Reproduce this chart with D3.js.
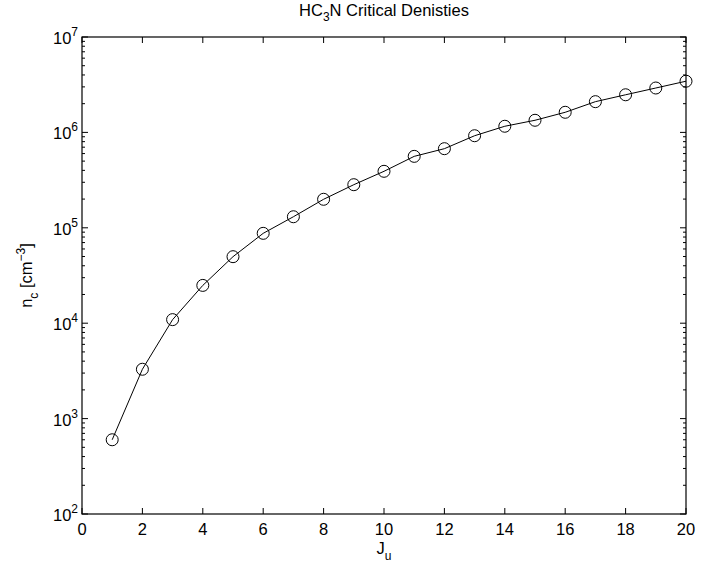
<!DOCTYPE html>
<html>
<head>
<meta charset="utf-8">
<script src="https://cdn.jsdelivr.net/npm/d3@7"></script>
<style>
  body { margin: 0; background: #fff; }
  text { font-family: "Liberation Sans", Arial, Helvetica, sans-serif; fill: #000; }
</style>
</head>
<body>
<div id="viz"></div>
<script>
// J_u levels and critical densities (cm^-3)
var levels    = [1, 2, 3, 4, 5, 6, 7, 8, 9, 10, 11, 12, 13, 14, 15, 16, 17, 18, 19, 20];
var densities = [600, 3290, 10900, 24900, 49800, 87500, 130600, 199000, 283000, 391000,
                 561000, 675000, 923000, 1160000, 1340000, 1625000, 2100000, 2480000, 2920000, 3440000];
var xTicks    = [0, 2, 4, 6, 8, 10, 12, 14, 16, 18, 20];
var yDecades  = [2, 3, 4, 5, 6, 7];

var W = 720, H = 565;
// plot box edges (don't call it "top", that's window.top)
var pL = 82, pR = 686, pT = 37, pB = 514;

var svg = d3.select("#viz").append("svg")
    .attr("width", W)
    .attr("height", H);

var x = d3.scaleLinear().domain([0, 20]).range([pL, pR]);
var y = d3.scaleLog().domain([1e2, 1e7]).range([pB, pT]);

// minor ticks on log axis
var minor = [];
for (var d = 2; d < 7; d++) {
  for (var m = 2; m <= 9; m++) minor.push(m * Math.pow(10, d));
}

var g = svg.append("g");

// x ticks, bottom and top, pointing inward
xTicks.forEach(function(t) {
  g.append("line").attr("x1", x(t)).attr("x2", x(t))
    .attr("y1", pB).attr("y2", pB - 6).attr("stroke", "#000");
  g.append("line").attr("x1", x(t)).attr("x2", x(t))
    .attr("y1", pT).attr("y2", pT + 6).attr("stroke", "#000");
  g.append("text").attr("x", x(t)).attr("y", 535)
    .attr("text-anchor", "middle").style("font-size", "16.5px").text(t);
});

// y major ticks + labels
yDecades.forEach(function(e) {
  var v = Math.pow(10, e);
  g.append("line").attr("x1", pL).attr("x2", pL + 6)
    .attr("y1", y(v)).attr("y2", y(v)).attr("stroke", "#000");
  g.append("line").attr("x1", pR).attr("x2", pR - 6)
    .attr("y1", y(v)).attr("y2", y(v)).attr("stroke", "#000");
  var lab = g.append("text").attr("x", 78).attr("y", y(v) + 7)
    .attr("text-anchor", "end").style("font-size", "16.5px");
  lab.append("tspan").text("10");
  lab.append("tspan").attr("dy", -8).style("font-size", "12px").text(e);
});

// y minor ticks
minor.forEach(function(v) {
  g.append("line").attr("x1", pL).attr("x2", pL + 3)
    .attr("y1", y(v)).attr("y2", y(v)).attr("stroke", "#000");
  g.append("line").attr("x1", pR).attr("x2", pR - 3)
    .attr("y1", y(v)).attr("y2", y(v)).attr("stroke", "#000");
});

// frame
g.append("rect")
  .attr("x", pL).attr("y", pT)
  .attr("width", pR - pL).attr("height", pB - pT)
  .attr("fill", "none").attr("stroke", "#000").attr("stroke-width", 1.2);

var pts = levels.map(function(l, i) { return [l, densities[i]]; });

var line = d3.line()
  .x(function(d) { return x(d[0]); })
  .y(function(d) { return y(d[1]); });

svg.append("path")
  .datum(pts)
  .attr("d", line)
  .attr("fill", "none")
  .attr("stroke", "#000")
  .attr("stroke-width", 1);

svg.selectAll("circle")
  .data(pts)
  .enter()
  .append("circle")
  .attr("cx", function(d) { return x(d[0]); })
  .attr("cy", function(d) { return y(d[1]); })
  .attr("r", 6)
  .attr("fill", "none")
  .attr("stroke", "#000")
  .attr("stroke-width", 1);

// title
var title = svg.append("text").attr("x", (pL + pR) / 2).attr("y", 16)
  .attr("text-anchor", "middle").style("font-size", "16.5px");
title.append("tspan").text("HC");
title.append("tspan").attr("dy", 5).style("font-size", "12px").text("3");
title.append("tspan").attr("dy", -5).text("N Critical Denisties");

// x label
var xl = svg.append("text").attr("x", (pL + pR) / 2).attr("y", 554)
  .attr("text-anchor", "middle").style("font-size", "16.5px");
xl.append("tspan").text("J");
xl.append("tspan").attr("dy", 6).style("font-size", "12px").text("u");

// y label
var yl = svg.append("text")
  .attr("transform", "translate(32," + ((pT + pB) / 2) + ") rotate(-90)")
  .attr("text-anchor", "middle").style("font-size", "16.5px");
yl.append("tspan").text("n");
yl.append("tspan").attr("dy", 6).style("font-size", "12px").text("c");
yl.append("tspan").attr("dy", -6).text(" [cm");
yl.append("tspan").attr("dy", -7).style("font-size", "12px").text("\u22123");
yl.append("tspan").attr("dy", 7).text("]");
</script>
</body>
</html>
